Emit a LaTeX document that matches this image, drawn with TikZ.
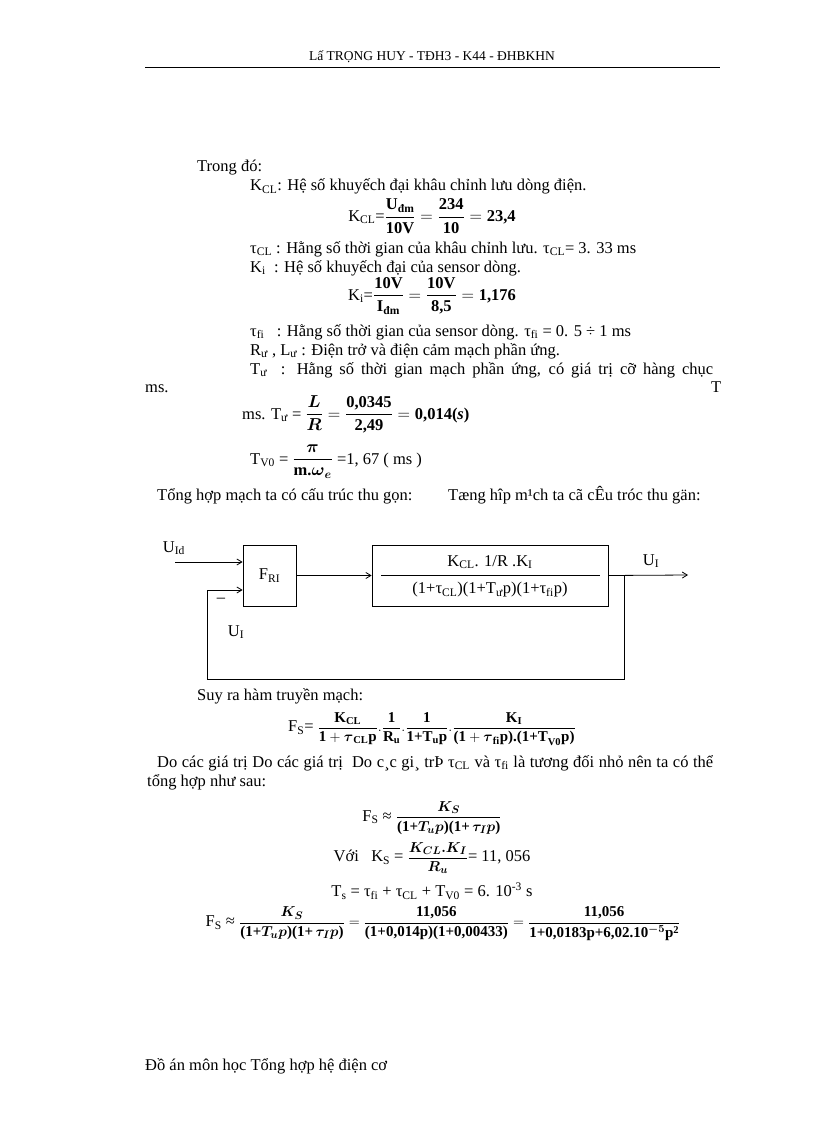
\documentclass[tikz,border=0pt]{standalone}
\usepackage{amsmath}
\usepackage{fontspec}
\setmainfont{Liberation Serif}
\usetikzlibrary{arrows.meta}
\begin{document}
\begin{tikzpicture}[x=1pt,y=-1pt,
  txt/.style={inner sep=0pt,anchor=base west,font=\fontsize{16.5}{19}\selectfont},
  ctr/.style={inner sep=0pt,font=\fontsize{16.5}{19}\selectfont},
  frm/.style={inner sep=0pt,font=\fontsize{15}{17}\selectfont},
  blk/.style={draw,thick,inner sep=0pt,font=\fontsize{16.5}{19}\selectfont},
  sig/.style={thick,-{Straight Barb[length=5pt,width=6pt]}},
  fb/.style={thick}]
\useasboundingbox (0,0) rectangle (816,1123);
\node[ctr,font=\fontsize{13.5}{16}\selectfont] (hdr) at (432,57) {Lấ TRỌNG HUY - TĐH3 - K44 - ĐHBKHN};
\coordinate (hl) at (145,67); \coordinate (hr) at (720,67);
\draw[thick] (hl) -- (hr);

\node[txt] (t1) at (197,172) {Trong đó:};
\node[txt] (t2) at (250,191) {K\textsubscript{CL}: Hệ số khuyếch đại khâu chỉnh lưu dòng điện.};
\node[ctr] (f1) at (432,216) {K\textsubscript{CL}=$\dfrac{\textbf{U}_{\textbf{đm}}}{\textbf{10V}}=\dfrac{\textbf{234}}{\textbf{10}}=\textbf{23,4}$};
\node[txt] (t3) at (250,253) {τ\textsubscript{CL} : Hằng số thời gian của khâu chỉnh lưu. τ\textsubscript{CL}= 3. 33 ms};
\node[txt] (t4) at (250,272) {K\textsubscript{i}\ \ : Hệ số khuyếch đại của sensor dòng.};
\node[ctr] (f2) at (432,296) {K\textsubscript{i}=$\dfrac{\textbf{10V}}{\textbf{I}_{\textbf{đm}}}=\dfrac{\textbf{10V}}{\textbf{8,5}}=\textbf{1,176}$};
\node[txt] (t5) at (250,336) {τ\textsubscript{fi}\ \ \ : Hằng số thời gian của sensor dòng. τ\textsubscript{fi} = 0. 5 ÷ 1 ms};
\node[txt] (t6) at (250,355) {R\textsubscript{ư} , L\textsubscript{ư} : Điện trở và điện cảm mạch phần ứng.};
\node[txt] (t7) at (250,374) {\makebox[463pt][s]{T\textsubscript{ư}\ \ : Hằng số thời gian mạch phần ứng, có giá trị cỡ hàng chục}};
\node[txt] (t8) at (145,392) {ms.};
\node[txt] (t9) at (711,392) {T};
\node[txt] (f3) at (242,419) {ms. T\textsubscript{ư} = $\dfrac{\boldsymbol{L}}{\boldsymbol{R}}=\dfrac{\textbf{0,0345}}{\textbf{2,49}}=\textbf{0,014(\textit{s})}$};
\node[txt] (f4) at (250,464) {T\textsubscript{V0} = $\dfrac{\boldsymbol{\pi}}{\textbf{m.}\boldsymbol{\omega}_{\boldsymbol{e}}}$ =1, 67 ( ms )};
\node[txt] (t10) at (157,500) {Tổng hợp mạch ta có cấu trúc thu gọn:};
\node[txt] (t11) at (448,500) {Tæng hîp m¹ch ta cã cÊu tróc thu gän:};

% block diagram
\node[blk,minimum width=53pt,minimum height=61pt] (fr) at (269.5,575.5) {F\textsubscript{RI}};
\node[blk,minimum width=236pt,minimum height=61pt] (g) at (490,575.5) {};
\coordinate (gl) at (381,575); \coordinate (gr) at (600,575);
\draw[thick] (gl) -- (gr);
\node[ctr] (num) at (490,562) {K\textsubscript{CL}. 1/R .K\textsubscript{I}};
\node[ctr] (den) at (490,590) {(1+τ\textsubscript{CL})(1+T\textsubscript{ư}p)(1+τ\textsubscript{fi}p)};
\coordinate (in) at (175,562);
\coordinate (out) at (688,575);
\coordinate (tap) at (624,575);
\coordinate (b1) at (624,679);
\coordinate (b2) at (207,679);
\coordinate (b3) at (207,590);
\draw[sig] (in) -- (in -| fr.west);
\draw[sig] (fr.east) -- (g.west);
\draw[sig] (g.east) -- (out);
\draw[fb] (tap) -- (b1) -- (b2) -- (b3);
\draw[sig] (b3) -- (b3 -| fr.west);
\node[ctr] (uid) at (174,548) {U\textsubscript{Id}};
\node[ctr] (mn) at (221,600) {–};
\node[ctr] (ui1) at (236,632) {U\textsubscript{I}};
\node[ctr] (ui2) at (651,561) {U\textsubscript{I}};

\node[txt] (t12) at (197,700) {Suy ra hàm truyền mạch:};
\node[frm] (f5) at (432,729) {\fontsize{16.5}{19}\selectfont F\textsubscript{S}= \fontsize{15}{17}\selectfont$\dfrac{\textbf{K}_{\textbf{CL}}}{\textbf{1}+\boldsymbol{\tau}_{\textbf{CL}}\textbf{p}}.\dfrac{\textbf{1}}{\textbf{R}_{\textbf{u}}}.\dfrac{\textbf{1}}{\textbf{1+T}_{\textbf{u}}\textbf{p}}.\dfrac{\textbf{K}_{\textbf{I}}}{\textbf{(1}+\boldsymbol{\tau}_{\textbf{fi}}\textbf{p).(1+T}_{\textbf{V0}}\textbf{p)}}$};
\node[txt] (t13) at (157,767) {\makebox[556pt][s]{Do các giá trị Do các giá trị\ \ Do c¸c gi¸ trÞ τ\textsubscript{CL} và τ\textsubscript{fi} là tương đối nhỏ nên ta có thể}};
\node[txt] (t14) at (147,786) {tổng hợp như sau:};
\node[frm] (f6) at (432,818) {\fontsize{16.5}{19}\selectfont F\textsubscript{S} ≈ \fontsize{15}{17}\selectfont$\dfrac{\boldsymbol{K_S}}{\textbf{(1+}\boldsymbol{T_u p}\textbf{)(1+}\,\boldsymbol{\tau_I p}\textbf{)}}$};
\node[frm] (f7) at (432,858) {\fontsize{16.5}{19}\selectfont Với\ \ \ K\textsubscript{S} = \fontsize{15}{17}\selectfont$\dfrac{\boldsymbol{K_{CL}.K_I}}{\boldsymbol{R_u}}$\fontsize{16.5}{19}\selectfont= 11, 056};
\node[ctr] (f8) at (432,891) {T\textsubscript{s} = τ\textsubscript{fi} + τ\textsubscript{CL} + T\textsubscript{V0} = 6. 10\textsuperscript{-3} s};
\node[frm] (f9) at (443,924) {\fontsize{16.5}{19}\selectfont F\textsubscript{S} ≈ \fontsize{15}{17}\selectfont$\dfrac{\boldsymbol{K_S}}{\textbf{(1+}\boldsymbol{T_u p}\textbf{)(1+}\,\boldsymbol{\tau_I p}\textbf{)}}=\dfrac{\textbf{11,056}}{\textbf{(1+0,014p)(1+0,00433)}}=\dfrac{\textbf{11,056}}{\textbf{1+0,0183p+6,02.10}^{\boldsymbol{-5}}\textbf{p}^{\textbf{2}}}$};
\node[txt] (ft) at (145,1070) {Đồ án môn học Tổng hợp hệ điện cơ};
\end{tikzpicture}
\end{document}
